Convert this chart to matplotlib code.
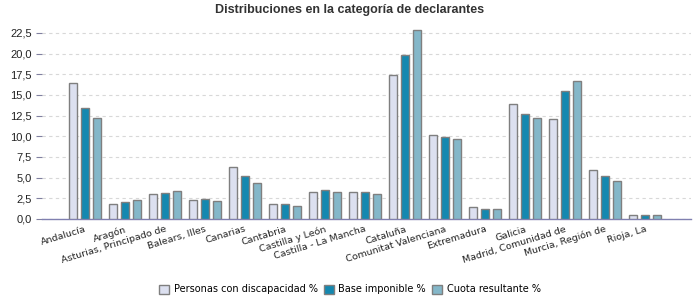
import matplotlib
matplotlib.use('Agg')
import matplotlib.pyplot as plt
import matplotlib.ticker as mticker
import numpy as np

plt.rcParams['font.family'] = ['Liberation Sans', 'DejaVu Sans']

regions = ['Andalucía', 'Aragón', 'Asturias, Principado de', 'Balears, Illes',
           'Canarias', 'Cantabria', 'Castilla y León', 'Castilla - La Mancha',
           'Cataluña', 'Comunitat Valenciana', 'Extremadura', 'Galicia',
           'Madrid, Comunidad de', 'Murcia, Región de', 'Rioja, La']
personas = [16.4, 1.8, 3.0, 2.3, 6.25, 1.8, 3.25, 3.25, 17.4, 10.15, 1.4, 13.9, 12.05, 5.9, 0.45]
base = [13.4, 2.0, 3.1, 2.4, 5.15, 1.8, 3.45, 3.25, 19.8, 9.9, 1.2, 12.65, 15.5, 5.15, 0.45]
cuota = [12.25, 2.3, 3.4, 2.15, 4.35, 1.55, 3.25, 3.0, 22.9, 9.65, 1.2, 12.2, 16.7, 4.6, 0.45]
series_names = ['Personas con discapacidad %', 'Base imponible %', 'Cuota resultante %']
colors = ['#dce0f0', '#1488b0', '#84b7c9']

fig = plt.figure(figsize=(7, 3), dpi=100)
ax = fig.add_axes([0.06, 0.27, 0.927, 0.648])

x = np.arange(len(regions))
w = 0.2
for i, (vals, name) in enumerate(zip([personas, base, cuota], series_names)):
    ax.bar(x + (i - 1) * 0.3, vals, width=w, color=colors[i], edgecolor='#7f7f7f',
           linewidth=1, label=name, zorder=3)

ax.set_xlim(-1.07, len(regions) - 1 + 1.15)
ax.set_ylim(0, 23.5)
ax.set_yticks(np.arange(0, 22.6, 2.5))
ax.yaxis.set_major_formatter(mticker.FuncFormatter(lambda v, p: f'{v:.1f}'.replace('.', ',')))
ax.yaxis.grid(True, linestyle=(0, (3, 3)), color='#d8d8d8', linewidth=0.8, zorder=0)
ax.tick_params(axis='y', length=4, color='#8080a0', labelsize=8, labelcolor='#222222')
ax.tick_params(axis='x', length=0, labelcolor='#222222', pad=4)
ax.set_xticks(x)
ax.set_xticklabels(regions, rotation=17, ha='right', rotation_mode='anchor',
                   family='DejaVu Sans', fontsize=6.8)
for s in ['top', 'right', 'left']:
    ax.spines[s].set_visible(False)
ax.spines['bottom'].set_color('#8080b0')
ax.spines['bottom'].set_linewidth(1)

fig.suptitle('Distribuciones en la categoría de declarantes', fontsize=9, fontweight='bold',
             color='#333333', y=0.985)

leg = fig.legend(loc='center', bbox_to_anchor=(0.5, 0.035), ncol=3, frameon=False,
                 prop={'family': 'DejaVu Sans', 'size': 7}, handlelength=1.0,
                 handleheight=1.0, handletextpad=0.5, columnspacing=0.6)

plt.savefig('out.png', dpi=100)
